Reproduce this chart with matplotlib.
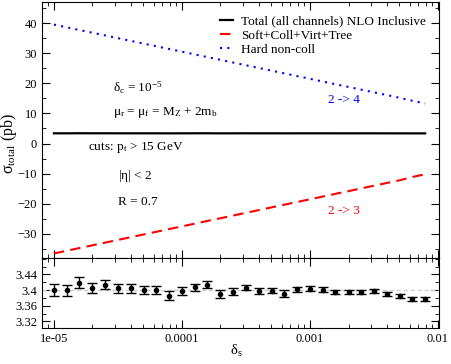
import numpy as np
import matplotlib
matplotlib.use("Agg")
from matplotlib import pyplot as plt
from matplotlib.ticker import LogLocator, MultipleLocator, NullFormatter

plt.rcParams['font.family'] = ['Liberation Serif', 'DejaVu Serif']
plt.rcParams['font.size'] = 9
plt.rcParams['mathtext.fontset'] = 'custom'
plt.rcParams['mathtext.rm'] = 'Liberation Serif'
plt.rcParams['mathtext.it'] = 'Liberation Serif:italic'
plt.rcParams['mathtext.bf'] = 'Liberation Serif:bold'

# delta_s grid (0.1 decade steps from 1e-5)
delta_s = [1.0e-5, 1.26e-5, 1.58e-5, 2.0e-5, 2.51e-5, 3.16e-5, 3.98e-5, 5.01e-5, 6.31e-5, 7.94e-5,
           1.0e-4, 1.26e-4, 1.58e-4, 2.0e-4, 2.51e-4, 3.16e-4, 3.98e-4, 5.01e-4, 6.31e-4, 7.94e-4,
           1.0e-3, 1.26e-3, 1.58e-3, 2.0e-3, 2.51e-3, 3.16e-3, 3.98e-3, 5.01e-3, 6.31e-3, 7.94e-3]

# top panel curves (pb)
hard_noncoll = [39.5, 38.6, 37.7, 36.8, 35.9, 35.0, 34.1, 33.2, 32.3, 31.4,
                30.5, 29.6, 28.7, 27.8, 26.9, 26.0, 25.1, 24.2, 23.3, 22.4,
                21.5, 20.6, 19.7, 18.8, 17.9, 17.0, 16.1, 15.2, 14.2, 13.3]
soft_coll = [-36.5, -35.6, -34.7, -33.8, -32.9, -32.0, -31.1, -30.2, -29.3, -28.4,
             -27.5, -26.6, -25.7, -24.8, -23.9, -23.0, -22.1, -21.2, -20.3, -19.4,
             -18.5, -17.6, -16.7, -15.8, -14.9, -14.0, -13.1, -12.2, -11.1, -10.2]
total = [3.400, 3.399, 3.419, 3.406, 3.413, 3.404, 3.404, 3.401, 3.401, 3.386,
         3.397, 3.407, 3.414, 3.389, 3.396, 3.406, 3.397, 3.398, 3.391, 3.402,
         3.403, 3.401, 3.395, 3.395, 3.395, 3.397, 3.389, 3.386, 3.378, 3.377]
total_err = [0.015, 0.014, 0.014, 0.013, 0.0115, 0.012, 0.011, 0.0105, 0.0105, 0.0115,
             0.010, 0.0085, 0.008, 0.010, 0.0085, 0.0065, 0.007, 0.0065, 0.0085, 0.0065,
             0.0065, 0.006, 0.006, 0.005, 0.005, 0.005, 0.005, 0.005, 0.005, 0.005]
ref_value = 3.401

xticks = [1e-5, 1e-4, 1e-3, 1e-2]
xticklabels = ['1e-05', '0.0001', '0.001', '0.01']

fig = plt.figure(figsize=(4.52, 3.64), dpi=100)
ax = fig.add_axes([0.0929, 0.2904, 0.8783, 0.7041])
ax2 = fig.add_axes([0.0929, 0.0997, 0.8783, 0.1907], sharex=ax)

# Top panel
ax.plot(delta_s, total, color='black', lw=1.6, label='Total (all channels) NLO Inclusive')
ax.plot(delta_s, soft_coll, color='#ff0000', lw=1.5, dashes=(5, 3), label='Soft+Coll+Virt+Tree')
ax.plot(delta_s, hard_noncoll, color='#0000ff', lw=1.5, dashes=(1, 2.5), label='Hard non-coll')

ax.set_xscale('log')
ax.set_xlim(8.07e-6, 1.018e-2)
ax.set_ylim(-38.1, 47.0)
ax.yaxis.set_major_locator(MultipleLocator(10))
ax.yaxis.set_minor_locator(MultipleLocator(5))
ax.tick_params(which='both', direction='in', top=True, right=True, labelbottom=False)
ax.tick_params(which='major', length=6)
ax.tick_params(which='minor', length=3)

leg = ax.legend(loc='upper right', frameon=False, handlelength=1.0, handletextpad=0.6,
                labelspacing=0.15, borderaxespad=0.6, fontsize=9.5)

tr = ax.transAxes
ax.text(0.179, 0.664, r'$\mathrm{\delta_c}$ = 10$^{-5}$', transform=tr, va='center', fontsize=9.5)
ax.text(0.179, 0.567, r'$\mathrm{\mu_r}$ = $\mathrm{\mu_f}$ = M$_\mathrm{Z}$ + 2m$_\mathrm{b}$',
        transform=tr, va='center', fontsize=9.5)
ax.text(0.116, 0.431, r'cuts: p$_\mathrm{t}$ > 15 GeV', transform=tr, va='center', fontsize=9.5)
ax.text(0.191, 0.321, r'|$\mathrm{\eta}$| < 2', transform=tr, va='center', fontsize=9.5)
ax.text(0.191, 0.220, 'R = 0.7', transform=tr, va='center', fontsize=9.5)
ax.text(0.72, 0.618, '2 -> 4', transform=tr, va='center', color='#0000ff', fontsize=9.5)
ax.text(0.72, 0.185, '2 -> 3', transform=tr, va='center', color='#ff0000', fontsize=9.5)

# Bottom panel
ax2.axhline(ref_value, color='#d0d0d0', lw=1, dashes=(3, 2))
ax2.errorbar(delta_s, total, yerr=total_err, fmt='o', color='black', ms=3,
             elinewidth=1, capsize=3.6, capthick=1)
ax2.set_ylim(3.304, 3.481)
ax2.yaxis.set_minor_locator(MultipleLocator(0.02))
ax2.set_yticks([3.32, 3.36, 3.40, 3.44])
ax2.set_yticklabels(['3.32', '3.36', '3.4', '3.44'])
ax2.set_xticks(xticks)
ax2.set_xticklabels(xticklabels)
ax2.xaxis.set_minor_locator(LogLocator(base=10, subs=np.arange(2, 10)))
ax2.xaxis.set_minor_formatter(NullFormatter())
ax2.tick_params(which='both', direction='in', top=True, right=True)
ax2.tick_params(which='major', length=6)
ax2.tick_params(which='minor', length=3)
ax2.set_xlim(8.07e-6, 1.018e-2)

fig.text(0.021, 0.605, r'$\mathrm{\sigma_{total}}$ (pb)', rotation=90, ha='center', va='center',
         fontsize=11.5)
fig.text(0.522, 0.035, r'$\mathrm{\delta_s}$', ha='center', va='center', fontsize=10.5)

fig.savefig('out.png', dpi=100)
